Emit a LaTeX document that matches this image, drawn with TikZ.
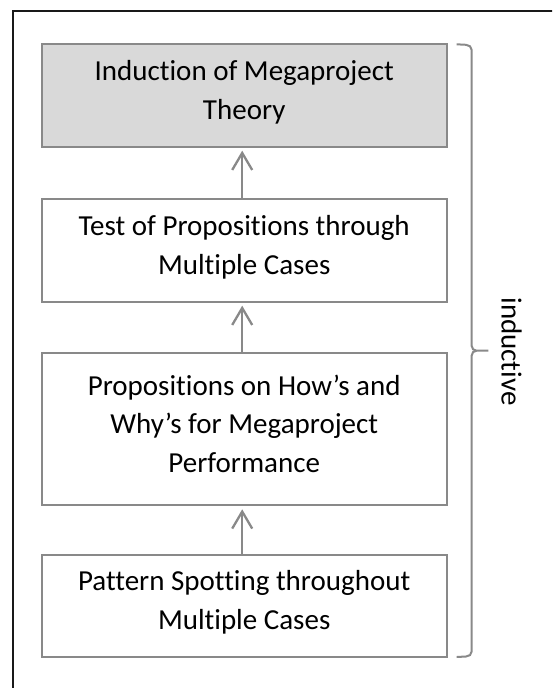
\documentclass[tikz,border=0pt]{standalone}
\usepackage{fontspec}
\setmainfont{Carlito}[Ligatures=NoCommon]
\usetikzlibrary{arrows.meta}
\definecolor{boxline}{HTML}{898989}
\definecolor{boxfill}{HTML}{D9D9D9}
\tikzset{
  stagebox/.style={draw=boxline, line width=2pt, rectangle, minimum width=405pt,
    inner sep=0pt, align=center, font=\fontsize{29}{38.4}\selectfont,
    execute at begin node=\strut, execute at end node=\strut},
  uparrow/.style={draw=boxline, line width=2.3pt, -{Straight Barb[length=17pt,width=20pt,line width=2.3pt]}, shorten >=3pt},
  bracket/.style={draw=boxline, line width=2pt},
  frameline/.style={draw=black!90, line width=2pt}
}
\begin{document}
\begin{tikzpicture}[x=1pt,y=-1pt]
\useasboundingbox (0,0) rectangle (552,688);
\clip (0,0) rectangle (552,688);
\fill[white] (0,0) rectangle (552,688);
% outer frame (continues beyond the picture)
\draw[frameline] (13.3,700) -- (13.3,11) -- (570,11);
% stage boxes
\node[stagebox, fill=boxfill, minimum height=102.4pt] (b1) at (244.2,95.5) {Induction of Megaproject\\Theory};
\node[stagebox, minimum height=102.4pt] (b2) at (244.2,250.5) {Test of Propositions through\\Multiple Cases};
\node[stagebox, minimum height=152.3pt] (b3) at (244.2,429.15) {Propositions on How’s and\\Why’s for Megaproject\\Performance};
\node[stagebox, minimum height=102.3pt] (b4) at (244.2,605.85) {Pattern Spotting throughout\\Multiple Cases};
% arrows
\draw[uparrow] ([xshift=-2pt]b2.north) -- ([xshift=-2pt]b1.south);
\draw[uparrow] ([xshift=-2pt]b3.north) -- ([xshift=-2pt]b2.south);
\draw[uparrow] ([xshift=-2pt]b4.north) -- ([xshift=-2pt]b3.south);
% brace
\coordinate (btop) at (456.7,44.3);
\coordinate (bmid) at (488.3,350.7);
\coordinate (bbot) at (456.7,657);
\draw[bracket] (btop) -- (466,44.8) to[out=0,in=90] (471.7,50) -- (471.7,346)
  to[out=-90,in=180] (476.5,350.7) -- (bmid);
\draw[bracket] (476.5,350.7) to[out=180,in=90] (471.7,355.4) -- (471.7,651.5)
  to[out=-90,in=0] (466,656.5) -- (bbot);
% label
\node[rotate=-90, anchor=base, inner sep=0pt, font=\fontsize{29}{34}\selectfont] (lab) at (501.7,351.5) {inductive};
\end{tikzpicture}
\end{document}
